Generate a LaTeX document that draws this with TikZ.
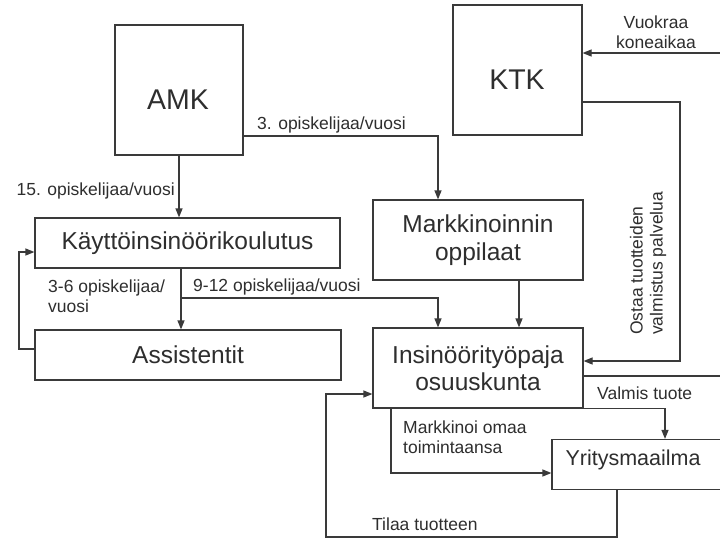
\documentclass[tikz,border=0pt]{standalone}
\usepackage{fontspec}
\setmainfont{Liberation Sans}
\usetikzlibrary{arrows.meta}
\definecolor{linec}{HTML}{3A3A3A}
\definecolor{txtc}{HTML}{2E2E2E}
\begin{document}
\begin{tikzpicture}[x=1pt,y=-1pt,
  box/.style={draw=linec, line width=1.2pt, inner sep=0pt, text=txtc},
  boxtext/.style={font=\fontsize{24.5}{27.5}\selectfont, align=center},
  bigtext/.style={font=\fontsize{28.5}{32}\selectfont, text=txtc, inner sep=0pt},
  midtext/.style={font=\fontsize{21.5}{24}\selectfont, text=txtc, inner sep=0pt},
  lbl/.style={font=\fontsize{17.5}{20}\selectfont, text=txtc, inner sep=0pt},
  conn/.style={draw=linec, line width=1.2pt},
  arr/.style={conn, -{Triangle[length=9pt,width=7pt]}}
]
\useasboundingbox (0,0) rectangle (720,547);
\clip (0,0) rectangle (720,547);
\fill[white] (0,0) rectangle (720,547);

% boxes
\node[box, minimum width=128pt, minimum height=130pt] (amk) at (179,90) {};
\node[bigtext] (amkt) at (178,100) {AMK};
\node[box, minimum width=129pt, minimum height=130pt] (ktk) at (517.5,70) {};
\node[bigtext] (ktkt) at (517,80) {KTK};
\node[box, boxtext, minimum width=305pt, minimum height=50pt] (kay) at (187.5,243) {Käyttöinsinöörikoulutus};
\node[box, boxtext, minimum width=306pt, minimum height=50pt] (ass) at (188,355) {Assistentit};
\node[box, boxtext, minimum width=210pt, minimum height=80pt] (mark) at (478,240) {Markkinoinnin\\oppilaat};
\node[box, boxtext, minimum width=210pt, minimum height=80pt] (ins) at (478,368) {Insinöörityöpaja\\osuuskunta};
\node[box, minimum width=178pt, minimum height=50pt] (yri) at (641,464.5) {};
\node[midtext] (yrit) at (633,460) {Yritysmaailma};

% free ends and junctions
\coordinate (eastA) at (725,53);
\coordinate (eastB) at (725,376);
\coordinate (j1) at (181,298);

% connectors
\draw[arr] (amk.south) -- (amk.south |- kay.north);
\draw[arr] (amk.east |- 0,136) -| ([xshift=-40pt]mark.north);
\draw[arr] (kay.south -| j1) -- (ass.north -| j1);
\draw[arr] (j1) -| ([xshift=-40pt]ins.north);
\draw[arr] ([yshift=6pt]ass.west) -| (19,300) |- ([yshift=-9pt]kay.west);
\draw[arr] (mark.south -| 519,0) -- (ins.north -| 519,0);
\draw[arr] (eastA) -- (ktk.east |- eastA);
\draw[arr] (ktk.east |- 0,102) -| (680,230) |- (ins.east |- 0,361);
\draw[conn] (ins.east |- eastB) -- (eastB);
\draw[arr] (ins.south east) -| (yri.north -| 665,0);
\draw[arr] (ins.south -| 391,0) |- (yri.west |- 0,473);
\draw[arr] (yri.south -| 617,0) -- (617,537) -| (326,450) |- (ins.west |- 0,394);

% labels
\node[lbl, anchor=base east] (l15) at (175,195) {15. opiskelijaa/vuosi};
\node[lbl, anchor=base west] (l3) at (257,129) {3. opiskelijaa/vuosi};
\node[lbl, anchor=west, align=left] (l36) at (48,296) {3-6 opiskelijaa/\\vuosi};
\node[lbl, anchor=base west] (l912) at (193,291) {9-12 opiskelijaa/vuosi};
\node[lbl, align=center] (lvk) at (656,32) {Vuokraa\\koneaikaa};
\node[lbl, rotate=90, anchor=west, align=left] (lost) at (648,335) {Ostaa tuotteiden\\valmistus palvelua};
\node[lbl, anchor=base west] (lvt) at (597,399) {Valmis tuote};
\node[lbl, anchor=west, align=left] (lmo) at (403,437) {Markkinoi omaa\\toimintaansa};
\node[lbl, anchor=base west] (ltt) at (372,530) {Tilaa tuotteen};
\end{tikzpicture}
\end{document}
